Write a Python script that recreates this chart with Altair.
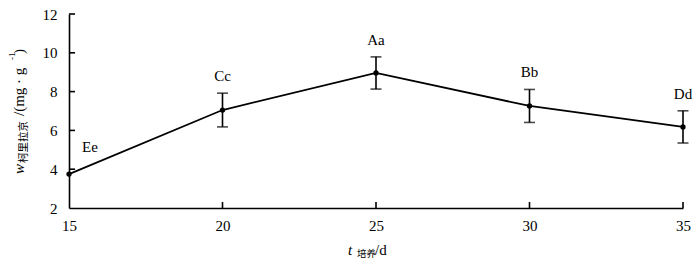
import altair as alt
import pandas as pd

# ---- data ----
days = [15, 20, 25, 30, 35]
means = [3.75, 7.05, 8.96, 7.26, 6.18]
errs = [0.0, 0.87, 0.83, 0.85, 0.83]
letters = ["Ee", "Cc", "Aa", "Bb", "Dd"]
x_ticks = [15, 20, 25, 30, 35]
y_ticks = [2, 4, 6, 8, 10, 12]

df = pd.DataFrame({"t": days, "w": means, "err": errs, "lab": letters})
df["lo"] = df["w"] - df["err"]
df["hi"] = df["w"] + df["err"]

W, H = 614, 194
FONT = "Liberation Serif"
one = pd.DataFrame({"k": [0]})

xs = alt.Scale(domain=[15, 35], nice=False, zero=False)
ys = alt.Scale(domain=[2, 12], nice=False, zero=False)

xaxis = alt.Axis(values=x_ticks, title=None, tickSize=0, labelPadding=10,
                 domainColor="black", domainWidth=1.6, labelFont=FONT,
                 labelFontSize=15, labelColor="black", grid=False,
                 labelFlush=False, labelOverlap=False)
yaxis = alt.Axis(values=y_ticks, title=None, tickSize=0, labelPadding=12,
                 domainColor="black", domainWidth=1.6, labelFont=FONT,
                 labelFontSize=15, labelColor="black", grid=False,
                 labelFlush=False, labelOverlap=False)

base = alt.Chart(df)

line = base.mark_line(color="black", strokeWidth=1.8).encode(
    x=alt.X("t:Q", scale=xs, axis=xaxis),
    y=alt.Y("w:Q", scale=ys, axis=yaxis),
)
pts = base.mark_circle(color="black", size=28, opacity=1).encode(
    x=alt.X("t:Q", scale=xs, axis=xaxis), y=alt.Y("w:Q", scale=ys, axis=yaxis)
)
eb = base.transform_filter("datum.err > 0").mark_errorbar(
    ticks=True, size=11, thickness=1.6, color="black"
).encode(
    x=alt.X("t:Q", scale=xs, axis=xaxis),
    y=alt.Y("lo:Q", scale=ys, axis=yaxis),
    y2="hi:Q",
)

lab = base.transform_filter("datum.t > 15").mark_text(
    font=FONT, fontSize=15, dy=-17, baseline="middle", color="black"
).encode(x=alt.X("t:Q", scale=xs, axis=xaxis), y=alt.Y("hi:Q", scale=ys, axis=yaxis), text="lab:N")
lab0 = base.transform_filter("datum.t == 15").mark_text(
    font=FONT, fontSize=15, dx=21, dy=-27, baseline="middle", color="black"
).encode(x=alt.X("t:Q", scale=xs, axis=xaxis), y=alt.Y("hi:Q", scale=ys, axis=yaxis), text="lab:N")

# inward tick marks, placed through the scales, pointing into the plot
tick_x = pd.DataFrame({"v": x_ticks[1:]})
tick_y = pd.DataFrame({"v": y_ticks[1:]})
xt = alt.Chart(tick_x).mark_tick(
    color="black", thickness=1.6, size=6, orient="vertical", opacity=1
).encode(
    x=alt.X("v:Q", scale=xs, axis=xaxis),
    y=alt.value(H - 3),
)
yt = alt.Chart(tick_y).mark_tick(
    color="black", thickness=1.6, size=6, orient="horizontal", opacity=1
).encode(
    y=alt.Y("v:Q", scale=ys, axis=yaxis),
    x=alt.value(3),
)

# axis titles with sub/superscripts
def piece(text, x, y, size, angle=0, italic=False, font=FONT):
    kw = dict(text=text, font=font, fontSize=size, align="left",
              baseline="alphabetic", color="black")
    if angle:
        kw["angle"] = angle
    if italic:
        kw["fontStyle"] = "italic"
    return alt.Chart(one).mark_text(**kw).encode(x=alt.value(x), y=alt.value(y))

CJK = "Noto Sans CJK SC"
ytitle = [
    piece("w", -45, 160, 15, 270, True),
    piece("柯里拉京", -42, 149, 10.5, 270, font=CJK),
    piece("/(mg · g", -45, 102, 15, 270),
    piece("-1", -54, 46, 9, 270),
    piece(")", -45, 40, 15, 270),
]
xtitle = [
    piece("t", 279, 241, 15, italic=True),
    piece("培养", 288, 243, 9.5, font=CJK),
    piece("/d", 306, 241, 15),
]

chart = alt.layer(line, eb, pts, lab, lab0, xt, yt, *ytitle, *xtitle).properties(
    width=W, height=H,
    autosize=alt.AutoSizeParams(type="none"),
    padding={"left": 61, "top": 6, "right": 9, "bottom": 55},
    background="white",
).configure_view(stroke=None)

chart.save("out.html", embed_options={"renderer": "svg", "actions": False})
